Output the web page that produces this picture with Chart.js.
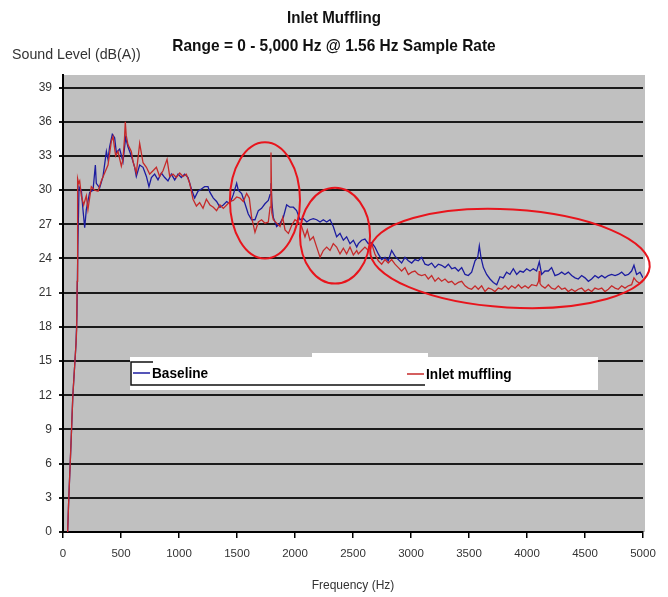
<!DOCTYPE html>
<html>
<head>
<meta charset="utf-8">
<script src="https://cdn.jsdelivr.net/npm/chart.js@4.4.0/dist/chart.umd.min.js"></script>
<style>
  html, body { margin: 0; padding: 0; background: #fff; }
  #wrap { width: 668px; height: 597px; }
</style>
</head>
<body>
<div id="wrap"><canvas id="myChart" width="668" height="597"></canvas></div>
<script>
// frequency (Hz) / sound level (dB(A))
const baselineHz = [40, 50, 60, 70, 85, 100, 112, 120, 128, 138, 158, 172, 187, 201, 230, 259, 279, 287, 316, 345,
  374, 388, 402, 425, 445, 460, 489, 517, 540, 560, 589, 618, 632, 661, 690, 719, 741, 762, 790, 819,
  848, 877, 905, 934, 963, 992, 1020, 1049, 1078, 1107, 1135, 1164, 1193, 1221, 1250, 1267, 1296, 1324, 1353, 1382,
  1411, 1439, 1468, 1497, 1511, 1540, 1569, 1597, 1626, 1655, 1684, 1712, 1741, 1770, 1785, 1793, 1800, 1813, 1842, 1871,
  1899, 1928, 1957, 1986, 2014, 2043, 2072, 2101, 2129, 2158, 2187, 2216, 2244, 2273, 2302, 2330, 2359, 2388, 2417, 2445,
  2474, 2503, 2532, 2546, 2574, 2603, 2632, 2661, 2689, 2718, 2747, 2776, 2804, 2833, 2862, 2891, 2919, 2948, 2977, 3006,
  3034, 3063, 3092, 3121, 3149, 3178, 3207, 3236, 3264, 3293, 3322, 3351, 3379, 3408, 3437, 3466, 3494, 3523, 3552, 3575,
  3589, 3603, 3624, 3652, 3681, 3710, 3739, 3767, 3796, 3824, 3853, 3882, 3911, 3940, 3968, 3997, 4026, 4054, 4083, 4106,
  4126, 4155, 4184, 4212, 4241, 4270, 4299, 4327, 4356, 4385, 4414, 4442, 4471, 4500, 4529, 4557, 4586, 4615, 4644, 4672,
  4701, 4730, 4759, 4787, 4816, 4845, 4874, 4902, 4922, 4945, 4974, 5000];
const baselineDb = [0, 3, 5.5, 8, 12, 14.5, 16.5, 19, 25, 30.3, 30.0, 28.3, 26.7, 28.3, 29.8, 30.0, 32.2, 30.6, 30.2, 31.2,
  33.4, 32.7, 33.8, 34.9, 34.6, 33.3, 33.6, 32.5, 34.6, 33.8, 33.0, 32.0, 31.2, 32.2, 32.0, 31.2, 30.3, 31.1, 31.4, 30.9,
  31.5, 31.1, 30.8, 31.4, 30.9, 31.4, 31.1, 31.4, 31.1, 30.1, 29.3, 29.9, 30.1, 30.3, 30.3, 29.8, 29.3, 29.0, 28.5, 28.7,
  29.0, 28.8, 29.6, 30.6, 30.0, 29.7, 28.8, 27.9, 27.4, 27.4, 28.2, 28.4, 28.8, 29.1, 29.6, 30.6, 29.0, 27.6, 26.8, 27.1,
  27.6, 28.7, 28.5, 28.5, 28.2, 27.4, 27.5, 27.2, 27.4, 27.5, 27.4, 27.2, 27.4, 27.2, 27.4, 26.8, 25.9, 26.2, 25.6, 25.9,
  25.3, 25.6, 25.0, 25.3, 25.6, 25.7, 25.3, 25.4, 25.0, 24.4, 23.9, 24.1, 23.8, 24.7, 24.2, 23.9, 23.6, 24.1, 23.8, 23.6,
  23.9, 23.8, 24.1, 23.5, 23.4, 23.6, 23.2, 23.5, 23.4, 23.2, 23.5, 23.1, 23.2, 22.9, 23.2, 22.6, 22.5, 22.8, 23.8, 24.1,
  25.1, 24.1, 23.2, 22.6, 22.2, 21.9, 21.7, 22.4, 22.3, 22.8, 22.6, 23.1, 22.6, 22.9, 22.8, 23.1, 22.9, 23.1, 22.9, 23.7,
  22.6, 22.9, 22.9, 23.2, 22.5, 22.6, 22.8, 22.6, 22.8, 22.5, 22.3, 22.2, 22.5, 22.3, 22.0, 22.2, 22.5, 22.3, 22.5, 22.3,
  22.5, 22.6, 22.5, 22.6, 22.8, 22.5, 22.6, 22.9, 23.4, 22.6, 22.8, 22.3];

const mufflingHz = [40, 50, 60, 70, 85, 100, 112, 118, 122, 126, 135, 144, 158, 178, 201, 215, 244, 273, 302, 330,
  359, 388, 417, 431, 454, 474, 503, 517, 530, 537, 545, 560, 589, 604, 632, 661, 690, 719, 747, 776,
  805, 833, 862, 897, 920, 948, 977, 1006, 1035, 1063, 1092, 1121, 1150, 1178, 1207, 1236, 1267, 1296, 1324, 1353,
  1382, 1411, 1439, 1468, 1497, 1526, 1554, 1583, 1606, 1626, 1655, 1684, 1712, 1741, 1770, 1785, 1793, 1800, 1813, 1842,
  1871, 1894, 1914, 1943, 1971, 2000, 2029, 2057, 2086, 2106, 2129, 2158, 2187, 2216, 2244, 2273, 2302, 2330, 2359, 2388,
  2417, 2445, 2474, 2503, 2532, 2546, 2574, 2603, 2632, 2661, 2689, 2718, 2747, 2776, 2804, 2833, 2862, 2891, 2919, 2948,
  2977, 3006, 3034, 3063, 3092, 3121, 3149, 3178, 3207, 3236, 3264, 3293, 3322, 3351, 3379, 3408, 3437, 3466, 3494, 3523,
  3552, 3580, 3609, 3638, 3667, 3696, 3724, 3753, 3782, 3811, 3840, 3868, 3897, 3926, 3954, 3983, 4011, 4040, 4083, 4100,
  4106, 4112, 4126, 4155, 4184, 4212, 4241, 4270, 4299, 4327, 4356, 4385, 4414, 4442, 4471, 4500, 4529, 4557, 4586, 4615,
  4644, 4672, 4701, 4730, 4759, 4787, 4816, 4845, 4874, 4902, 4922, 4945, 4974, 5000];
const mufflingDb = [0, 3, 5.5, 8, 12, 14.5, 16.5, 17.8, 22, 31.0, 30.6, 30.8, 29.5, 28.7, 29.5, 28.3, 30.3, 30.0, 29.9, 30.8,
  31.5, 32.2, 34.3, 34.7, 33.0, 33.4, 32.1, 32.7, 34.5, 36.0, 34.8, 34.0, 33.4, 32.5, 31.5, 34.1, 32.4, 32.0, 31.4, 31.7,
  32.0, 31.2, 31.7, 32.7, 31.2, 31.4, 31.1, 31.5, 31.2, 31.4, 30.6, 29.2, 28.6, 28.9, 28.4, 29.2, 28.7, 28.5, 28.2, 28.7,
  28.4, 28.7, 29.0, 29.1, 29.4, 29.3, 29.0, 29.7, 29.3, 27.6, 26.3, 27.2, 27.4, 27.1, 27.2, 28.5, 33.3, 28.0, 27.4, 27.1,
  26.8, 27.6, 26.5, 26.2, 26.9, 27.4, 27.2, 26.8, 25.9, 26.5, 25.6, 25.9, 25.0, 24.1, 24.7, 25.0, 24.7, 25.3, 25.0, 24.4,
  24.9, 24.4, 25.0, 24.3, 24.7, 24.4, 24.7, 25.0, 24.7, 25.3, 24.4, 23.8, 23.5, 23.9, 23.6, 23.9, 23.5, 23.2, 22.9, 23.2,
  22.6, 22.8, 22.9, 22.6, 22.5, 22.6, 22.2, 22.5, 22.0, 22.3, 22.0, 22.2, 21.9, 22.0, 21.7, 21.9, 22.0, 21.6, 21.4, 21.3,
  21.6, 21.3, 21.6, 21.1, 21.4, 21.3, 21.1, 21.4, 21.3, 21.6, 21.3, 21.6, 21.4, 21.7, 21.4, 21.6, 21.4, 21.7, 21.6, 22.0,
  22.9, 21.8, 21.6, 21.4, 21.7, 21.4, 21.3, 21.6, 21.3, 21.4, 21.1, 21.3, 21.1, 21.3, 21.4, 21.1, 21.3, 21.1, 21.4, 21.3,
  21.4, 21.1, 21.3, 21.6, 21.4, 21.3, 21.6, 21.4, 21.6, 21.7, 22.3, 22.0, 21.8, 22.0];

const xTicks = [0, 500, 1000, 1500, 2000, 2500, 3000, 3500, 4000, 4500, 5000];
const yTicks = [0, 3, 6, 9, 12, 15, 18, 21, 24, 27, 30, 33, 36, 39];

const chartTitle = 'Inlet Muffling';
const chartSubtitle = 'Range = 0 - 5,000 Hz @ 1.56 Hz Sample Rate';
const yTitle = 'Sound Level (dB(A))';
const xTitle = 'Frequency (Hz)';

// red circles drawn over the plot (centre / radius in Hz and dB)
const ringHz = [1741, 2345, 3853];
const ringDb = [29.1, 26.0, 24.0];
const ringHzRadius = [302, 302, 1207];
const ringDbRadius = [5.1, 4.2, 4.3];
const ringTilt = [0, 0, 0.06];

const sans = '"Liberation Sans", Arial, sans-serif';

// squeeze text horizontally to get the Arial Narrow look
function narrowText(ctx, text, x, y, squeeze, align) {
  ctx.save();
  ctx.translate(x, y);
  ctx.scale(squeeze, 1);
  ctx.textAlign = align;
  ctx.fillText(text, 0, 0);
  ctx.restore();
}

function toPoints(xs, ys) {
  return xs.map((x, i) => ({ x: x, y: ys[i] }));
}

const plotBackground = {
  id: 'plotBackground',
  beforeDraw(chart) {
    const { ctx, chartArea } = chart;
    ctx.save();
    ctx.fillStyle = '#ffffff';
    ctx.fillRect(0, 0, chart.width, chart.height);
    ctx.fillStyle = '#c0c0c0';
    ctx.fillRect(chartArea.left, chartArea.top, chartArea.right - chartArea.left + 2, chartArea.bottom - chartArea.top);

    ctx.textBaseline = 'middle';
    ctx.fillStyle = '#111';
    ctx.font = 'bold 17px ' + sans;
    narrowText(ctx, chartTitle, 334, 18, 0.89, 'center');
    narrowText(ctx, chartSubtitle, 334, 46, 0.91, 'center');

    ctx.fillStyle = '#333';
    ctx.font = '14.5px ' + sans;
    narrowText(ctx, yTitle, 12, 55, 0.98, 'left');
    ctx.restore();
  }
};

// legend box sitting inside the plot like the Excel one
const boxLegend = {
  id: 'boxLegend',
  afterDatasetsDraw(chart) {
    const ctx = chart.ctx;
    const ds = chart.data.datasets;
    ctx.save();
    ctx.fillStyle = '#ffffff';
    ctx.fillRect(130, 357, 468, 33);
    ctx.fillRect(312, 353, 116, 5);
    ctx.strokeStyle = '#111';
    ctx.lineWidth = 1.5;
    ctx.beginPath();
    ctx.moveTo(153, 362);
    ctx.lineTo(131, 362);
    ctx.lineTo(131, 385);
    ctx.lineTo(425, 385);
    ctx.stroke();

    ctx.font = 'bold 15px ' + sans;
    ctx.textBaseline = 'middle';
    const items = [[ds[1], 133, 373], [ds[0], 407, 374]];
    items.forEach(([d, x, y]) => {
      ctx.strokeStyle = d.borderColor;
      ctx.lineWidth = 1.5;
      ctx.beginPath();
      ctx.moveTo(x, y);
      ctx.lineTo(x + 17, y);
      ctx.stroke();
      ctx.fillStyle = '#000';
      narrowText(ctx, d.label, x + 19, y + 1, 0.91, 'left');
    });
    ctx.restore();
  }
};

const rings = {
  id: 'rings',
  afterDraw(chart) {
    const ctx = chart.ctx;
    const xs = chart.scales.x, ys = chart.scales.y;
    ctx.save();
    ctx.strokeStyle = '#e8141c';
    ctx.lineWidth = 2;
    ringHz.forEach((hz, i) => {
      const cx = xs.getPixelForValue(hz);
      const cy = ys.getPixelForValue(ringDb[i]);
      const rx = xs.getPixelForValue(hz + ringHzRadius[i]) - cx;
      const ry = cy - ys.getPixelForValue(ringDb[i] + ringDbRadius[i]);
      ctx.beginPath();
      ctx.ellipse(cx, cy, rx, ry, ringTilt[i], 0, Math.PI * 2);
      ctx.stroke();
    });
    ctx.restore();
  }
};

const ctx = document.getElementById('myChart').getContext('2d');
window.myChart = new Chart(ctx, {
  type: 'line',
  data: {
    datasets: [{
      label: 'Inlet muffling',
      data: toPoints(mufflingHz, mufflingDb),
      borderColor: '#c62a2a',
      borderWidth: 1.3,
      pointRadius: 0,
      tension: 0,
      fill: false,
      order: 1
    }, {
      label: 'Baseline',
      data: toPoints(baselineHz, baselineDb),
      borderColor: '#1c1ca0',
      borderWidth: 1.3,
      pointRadius: 0,
      tension: 0,
      fill: false,
      order: 2
    }]
  },
  options: {
    responsive: false,
    animation: false,
    layout: { padding: { left: 0, right: 25, top: 75, bottom: 0 } },
    scales: {
      x: {
        type: 'linear',
        min: 0,
        max: 5000,
        afterBuildTicks: (s) => { s.ticks = xTicks.map(v => ({ value: v })); },
        afterFit: (s) => { s.height = 65; },
        grid: { drawOnChartArea: false, drawTicks: true, tickLength: 6, color: '#000', lineWidth: 1.5 },
        border: { display: true, color: '#000', width: 2 },
        ticks: {
          padding: 9,
          color: '#333',
          maxRotation: 0,
          autoSkip: false,
          callback: (v) => String(v),
          font: { family: sans, size: 11.5 }
        },
        title: {
          display: true,
          text: xTitle,
          color: '#333',
          font: { family: sans, size: 12 },
          padding: { top: 4, bottom: 4 }
        }
      },
      y: {
        min: 0,
        max: 40.1,
        afterBuildTicks: (s) => { s.ticks = yTicks.map(v => ({ value: v })); },
        afterFit: (s) => { s.width = 63; },
        grid: { color: '#1a1a1a', lineWidth: 2, drawTicks: true, tickLength: 4 },
        border: { display: true, color: '#000', width: 2 },
        ticks: {
          padding: 7,
          color: '#333',
          font: { family: sans, size: 12 }
        }
      }
    },
    plugins: {
      legend: { display: false },
      tooltip: { enabled: false },
      title: { display: false }
    }
  },
  plugins: [plotBackground, boxLegend, rings]
});
</script>
</body>
</html>
